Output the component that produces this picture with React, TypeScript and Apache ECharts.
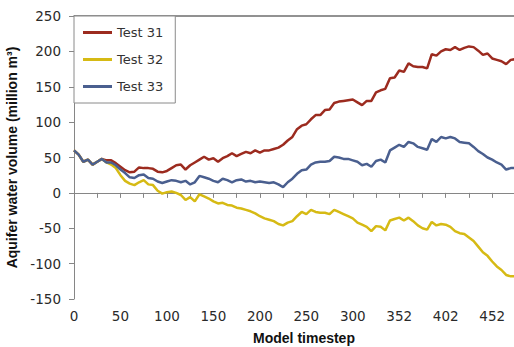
import React, { useEffect, useRef } from "react";
import * as echarts from "echarts";

// Model timesteps sampled every 5 steps (the source axis skips two steps after ~325)
const timesteps: string[] = Array.from({ length: 100 }, (_, k) =>
  String(k * 5 < 326 ? k * 5 : k * 5 + 2)
);

const seriesNames = ["Test 31", "Test 32", "Test 33"];

const test31 = [
  60, 54, 44, 47, 40, 44, 48, 46, 46, 42,
  37, 32, 29, 30, 36, 35, 35, 34, 30, 29,
  31, 35, 39, 40, 33, 39, 43, 47, 51, 47,
  49, 44, 49, 52, 56, 52, 55, 58, 56, 60,
  57, 60, 60, 62, 64, 68, 74, 79, 90, 95,
  97, 104, 110, 110, 117, 118, 127, 129, 130, 131,
  132, 128, 124, 130, 130, 142, 145, 147, 162, 163,
  173, 171, 183, 179, 178, 178, 176, 196, 194, 200,
  203, 202, 206, 202, 205, 207, 206, 201, 195, 197,
  190, 188, 186, 182, 188, 189,
];

const test32 = [
  60, 54, 44, 47, 40, 44, 48, 43, 40, 35,
  25, 17, 13, 11, 15, 18, 12, 11, 3, -1,
  1, 2, 0, -3, -10, -6, -12, -2, -5, -8,
  -12, -15, -14, -17, -18, -21, -22, -24, -26, -29,
  -33, -36, -38, -40, -44, -46, -42, -40, -33, -27,
  -30, -24, -27, -28, -28, -30, -24, -27, -30, -33,
  -36, -42, -45, -48, -54, -47, -48, -53, -39, -37,
  -35, -39, -35, -40, -46, -50, -52, -41, -46, -44,
  -45, -48, -54, -57, -58, -63, -68, -76, -84, -89,
  -97, -104, -109, -116, -118, -118,
];

const test33 = [
  60, 54, 44, 47, 40, 44, 48, 43, 43, 39,
  33, 28, 22, 21, 25, 26, 21, 20, 16, 14,
  16, 18, 17, 15, 17, 12, 15, 24, 22, 20,
  17, 15, 20, 18, 15, 18, 19, 16, 17, 15,
  16, 15, 14, 15, 12, 8, 15, 20, 27, 32,
  33, 40, 43, 44, 44, 45, 51, 50, 48, 48,
  46, 44, 39, 41, 37, 45, 47, 43, 60, 64,
  68, 65, 72, 70, 65, 63, 61, 76, 72, 79,
  77, 79, 77, 72, 71, 70, 65, 59, 55, 50,
  47, 43, 40, 33, 35, 35,
];

const colors = ["#9c2b1f", "#d6ba14", "#4a5f8f"];

export default function App() {
  const ref = useRef<HTMLDivElement>(null);
  useEffect(() => {
    if (!ref.current) return;
    const chart = echarts.init(ref.current, undefined, { renderer: "svg" });
    const axisColor = "#868686";
    chart.setOption({
      animation: false,
      backgroundColor: "#ffffff",
      textStyle: { fontFamily: "DejaVu Sans" },
      grid: {
        left: 74,
        top: 16,
        right: -20,
        bottom: 48,
        containLabel: false,
        outerBoundsMode: "none",
      },
      legend: {
        data: seriesNames,
        orient: "vertical",
        left: 74,
        top: 16,
        padding: [9, 12, 9, 9],
        itemGap: 12,
        itemWidth: 29,
        itemHeight: 3,
        icon: "rect",
        backgroundColor: "#ffffff",
        borderColor: "#8a8a8a",
        borderWidth: 1,
        textStyle: { fontFamily: "DejaVu Sans", fontSize: 13, color: "#333", lineHeight: 15 },
      },
      xAxis: [
        {
          type: "category",
          data: timesteps,
          boundaryGap: false,
          name: "Model timestep",
          nameLocation: "middle",
          nameGap: 32,
          nameTextStyle: {
            fontFamily: "Liberation Sans",
            fontWeight: "bold",
            fontSize: 14,
            color: "#111",
          },
          axisLine: { show: true, lineStyle: { color: axisColor, width: 1 } },
          axisTick: { show: true, interval: 4, length: 5, lineStyle: { color: axisColor } },
          axisLabel: {
            interval: 9,
            margin: 10,
            fontSize: 13.5,
            color: "#2a2a2a",
            fontFamily: "DejaVu Sans",
          },
          splitLine: { show: false },
        },
        {
          type: "category",
          data: timesteps,
          boundaryGap: false,
          position: "top",
          axisLine: { show: true, lineStyle: { color: "#6e6e6e", width: 1.5 } },
          axisTick: { show: false },
          axisLabel: { show: false },
          splitLine: { show: false },
        },
      ],
      yAxis: {
        type: "value",
        min: -150,
        max: 250,
        interval: 50,
        name: "Aquifer water volume (million m³)",
        nameLocation: "middle",
        nameGap: 49,
        nameTextStyle: {
          fontFamily: "Liberation Sans",
          fontWeight: "bold",
          fontSize: 14,
          color: "#111",
        },
        axisLine: { show: true, lineStyle: { color: axisColor, width: 1 } },
        axisTick: { show: true, length: 5, lineStyle: { color: axisColor } },
        axisLabel: { margin: 13, fontSize: 13.5, color: "#2a2a2a", fontFamily: "DejaVu Sans" },
        splitLine: { show: false },
      },
      series: [
        { name: seriesNames[0], data: test31, color: colors[0] },
        { name: seriesNames[1], data: test32, color: colors[1] },
        { name: seriesNames[2], data: test33, color: colors[2] },
      ].map((s) => ({
        ...s,
        type: "line",
        xAxisIndex: 0,
        symbol: "none",
        showSymbol: false,
        lineStyle: { width: 2.5, color: s.color },
        itemStyle: { color: s.color },
      })),
    });
    return () => chart.dispose();
  }, []);
  return (
    <div
      ref={ref}
      style={{ position: "fixed", left: 0, top: 0, width: 514, height: 347 }}
    />
  );
}
